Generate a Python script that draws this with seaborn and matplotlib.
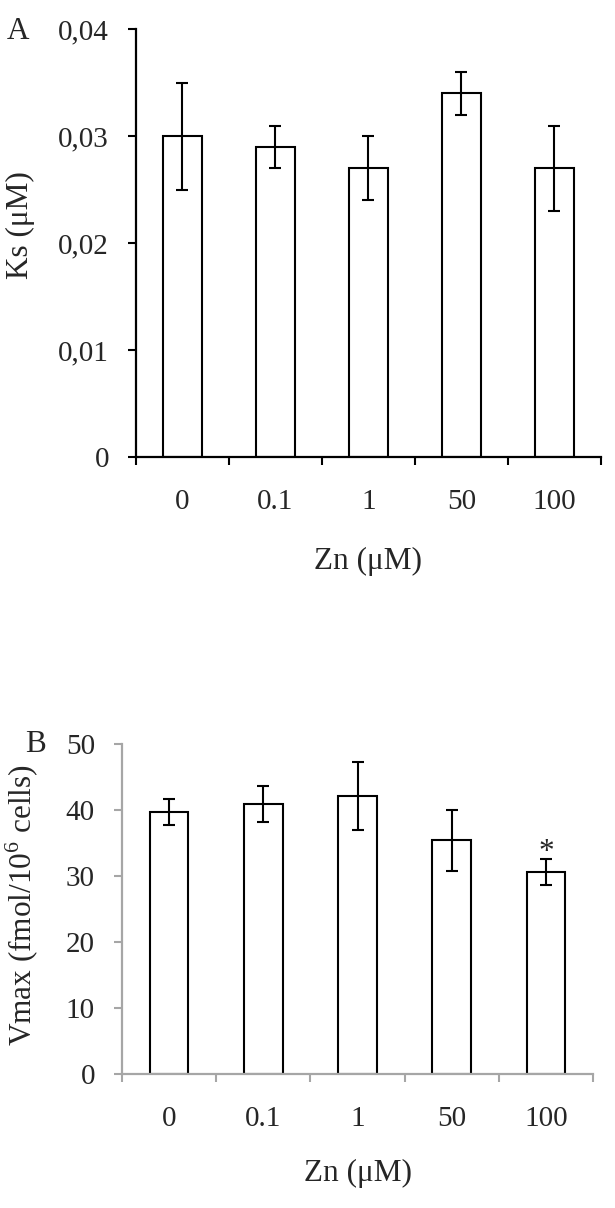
import numpy as np
import pandas as pd
import matplotlib
matplotlib.use('Agg')
import matplotlib.pyplot as plt
import seaborn as sns

# Zn concentrations (categories)
zn_labels = ['0', '0.1', '1', '50', '100']

# Panel A: Ks (uM), mean and error
ks_mean = [0.030, 0.029, 0.027, 0.034, 0.027]
ks_err = [0.005, 0.002, 0.003, 0.002, 0.004]

# Panel B: Vmax (fmol/10^6 cells), mean and error
vmax_mean = [39.7, 40.9, 42.1, 35.4, 30.6]
vmax_err = [2.0, 2.7, 5.1, 4.6, 2.0]
vmax_signif = ['', '', '', '', '*']

sns.set_style('white')
plt.rcParams['font.family'] = ['Liberation Serif', 'DejaVu Serif']
plt.rcParams['mathtext.fontset'] = 'custom'
plt.rcParams['mathtext.rm'] = 'Liberation Serif'
FS_TICK = 21
FS_LABEL = 22.5

fig = plt.figure(figsize=(6.15, 12.08), dpi=100)
ax_a = fig.add_axes([0.2211, 0.6217, 0.7561, 0.3540])
ax_b = fig.add_axes([0.1984, 0.1109, 0.7659, 0.2732])


def draw_panel(ax, means, errs, spine_color, yticks, yticklabels):
    df = pd.DataFrame({'zn': zn_labels, 'value': means})
    sns.barplot(data=df, x='zn', y='value', order=zn_labels, color='white',
                saturation=1, edgecolor='black', linewidth=1.5, width=0.41,
                errorbar=None, ax=ax)
    x = np.arange(len(zn_labels))
    ax.errorbar(x, means, yerr=errs, fmt='none', ecolor='black',
                elinewidth=1.5, capsize=4.6, capthick=1.5, zorder=3)

    # axes styling (Excel look)
    for side in ['top', 'right']:
        ax.spines[side].set_visible(False)
    for side in ['left', 'bottom']:
        ax.spines[side].set_color(spine_color)
        ax.spines[side].set_linewidth(1.6)

    ax.set_xlim(-0.5, len(zn_labels) - 0.5)
    ax.set_ylim(yticks[0], yticks[-1])
    ax.set_yticks(yticks)
    ax.set_yticklabels(yticklabels, fontsize=FS_TICK)
    ax.set_xticks(x)
    ax.set_xticklabels(zn_labels, fontsize=FS_TICK)
    ax.set_xticks(np.arange(len(zn_labels) + 1) - 0.5, minor=True)
    ax.tick_params(axis='x', which='major', length=0, pad=23)
    ax.tick_params(axis='x', which='minor', direction='out', length=6,
                   width=1.5, color=spine_color, bottom=True)
    ax.tick_params(axis='y', which='major', direction='out', length=6,
                   width=1.5, color=spine_color, pad=13.5, left=True)
    ax.set_xlabel('')
    ax.set_ylabel('')


# Panel A
draw_panel(ax_a, ks_mean, ks_err, 'black',
           [0, 0.01, 0.02, 0.03, 0.04], ['0', '0,01', '0,02', '0,03', '0,04'])

# Panel B
draw_panel(ax_b, vmax_mean, vmax_err, '#a6a6a6',
           [0, 10, 20, 30, 40, 50], ['0', '10', '20', '30', '40', '50'])

# significance mark above error bars
for i, mark in enumerate(vmax_signif):
    if mark:
        ax_b.annotate(mark, xy=(i, vmax_mean[i] + vmax_err[i]), xytext=(0, -6),
                      textcoords='offset points', ha='center', va='bottom',
                      fontsize=FS_LABEL)

# axis labels and panel letters
fig.text(0.034, 0.8137, 'Ks (\u03bcM)', rotation=90, ha='center', va='center', fontsize=FS_LABEL)
fig.text(0.598, 0.5356, 'Zn (\u03bcM)', ha='center', va='center', fontsize=FS_LABEL)
fig.text(0.036, 0.2508, 'Vmax (fmol/10$^{\\mathrm{6}}$ cells)', rotation=90,
         ha='center', va='center', fontsize=FS_LABEL)
fig.text(0.582, 0.029, 'Zn (\u03bcM)', ha='center', va='center', fontsize=FS_LABEL)
fig.text(0.030, 0.974, 'A', ha='center', va='center', fontsize=FS_LABEL)
fig.text(0.058, 0.3833, 'B', ha='center', va='center', fontsize=FS_LABEL)

fig.savefig('out.png', dpi=100, facecolor='white')
